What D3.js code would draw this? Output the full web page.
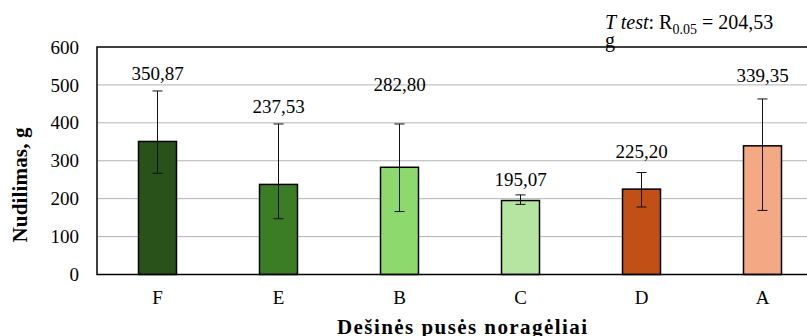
<!DOCTYPE html>
<html>
<head>
<meta charset="utf-8">
<script src="https://cdn.jsdelivr.net/npm/d3@7/dist/d3.min.js"></script>
<style>
  html, body { margin: 0; padding: 0; background: #fff; }
  svg { display: block; }
  svg text { font-family: "Times New Roman", "Liberation Serif", Times, "DejaVu Serif", serif !important; fill: #000; }
</style>
</head>
<body>
<svg id="chart" width="807" height="336"></svg>
<script>
// Plough share wear (g) for the right-hand side shares
const categories = ["F", "E", "B", "C", "D", "A"];
const means      = [350.87, 237.53, 282.80, 195.07, 225.20, 339.35];
const errLow     = [267, 147, 166, 185, 178, 169];
const errHigh    = [484, 397, 397, 210, 269, 463];
const colors     = ["#29521a", "#3b7d24", "#8dd96d", "#b6e5a1", "#c05016", "#f2a984"];
const yTicks     = [0, 100, 200, 300, 400, 500, 600];

const fmt = v => v.toFixed(2).replace(".", ",");

const svg = d3.select("#chart");
const margin = { left: 97, top: 47, bottom: 274.5, right: 823 };

const x = d3.scaleBand().domain(categories).range([margin.left, margin.right]).padding(0);
const y = d3.scaleLinear().domain([0, 600]).range([margin.bottom, margin.top]);
const barW = x.bandwidth() * 0.314;

// horizontal gridlines
svg.append("g").selectAll("line").data(yTicks.filter(t => t > 0 && t < 600)).join("line")
  .attr("x1", margin.left).attr("x2", margin.right)
  .attr("y1", d => y(d)).attr("y2", d => y(d))
  .attr("stroke", "#b3b3b3").attr("stroke-width", 1);

// y axis tick labels
const yAxis = d3.axisLeft(y).tickValues(yTicks).tickSize(0).tickPadding(18);
const gy = svg.append("g").attr("transform", `translate(${margin.left},0)`).call(yAxis);
gy.attr("font-family", null).attr("font-size", null);
gy.select(".domain").remove();
gy.selectAll("text").style("font-size", "19px").attr("fill", "#000");

// bars
svg.append("g").selectAll("rect").data(categories).join("rect")
  .attr("x", (d) => x(d) + x.bandwidth() / 2 - barW / 2)
  .attr("y", (d, i) => y(means[i]))
  .attr("width", barW)
  .attr("height", (d, i) => y(0) - y(means[i]))
  .attr("fill", (d, i) => colors[i])
  .attr("stroke", "#000").attr("stroke-width", 1.5);

// error bars
const eg = svg.append("g").attr("stroke", "#111").attr("stroke-width", 1);
categories.forEach((c, i) => {
  const cx = x(c) + x.bandwidth() / 2;
  eg.append("line").attr("x1", cx).attr("x2", cx).attr("y1", y(errLow[i])).attr("y2", y(errHigh[i]));
  eg.append("line").attr("x1", cx - 5).attr("x2", cx + 5).attr("y1", y(errLow[i])).attr("y2", y(errLow[i]));
  eg.append("line").attr("x1", cx - 5).attr("x2", cx + 5).attr("y1", y(errHigh[i])).attr("y2", y(errHigh[i]));
});

// plot frame
svg.append("rect")
  .attr("x", margin.left).attr("y", margin.top)
  .attr("width", margin.right - margin.left).attr("height", margin.bottom - margin.top)
  .attr("fill", "none").attr("stroke", "#000").attr("stroke-width", 1.5);

// value labels above the error bars
const labelLift = [11, 11, 33, 9, 15, 17];
svg.append("g").selectAll("text").data(categories).join("text")
  .attr("x", d => x(d) + x.bandwidth() / 2)
  .attr("y", (d, i) => y(errHigh[i]) - labelLift[i])
  .attr("text-anchor", "middle")
  .style("font-size", "19px")
  .text((d, i) => fmt(means[i]));

// x axis category labels
const xAxis = d3.axisBottom(x).tickSize(0).tickPadding(16);
const gx = svg.append("g").attr("transform", `translate(0,${margin.bottom})`).call(xAxis);
gx.attr("font-family", null).attr("font-size", null);
gx.select(".domain").remove();
gx.selectAll("text").style("font-size", "19px").attr("fill", "#000");

// axis titles
svg.append("text")
  .attr("x", 462).attr("y", 334)
  .attr("text-anchor", "middle")
  .attr("textLength", 250).attr("lengthAdjust", "spacing")
  .style("font-size", "21px").style("font-weight", "bold")
  .text("Dešinės pusės noragėliai");

svg.append("text")
  .attr("transform", "translate(27,185) rotate(-90)")
  .attr("text-anchor", "middle")
  .attr("textLength", 115).attr("lengthAdjust", "spacing")
  .style("font-size", "21px").style("font-weight", "bold")
  .text("Nudilimas, g");

// significance note
const note = svg.append("text").attr("x", 605).attr("y", 29).style("font-size", "20px");
note.append("tspan").style("font-style", "italic").text("T test");
note.append("tspan").text(": R");
note.append("tspan").attr("dy", 5).style("font-size", "14px").text("0.05");
note.append("tspan").attr("dy", -5).text(" = 204,53");
svg.append("text").attr("x", 605).attr("y", 47).style("font-size", "20px").text("g");
</script>
</body>
</html>
